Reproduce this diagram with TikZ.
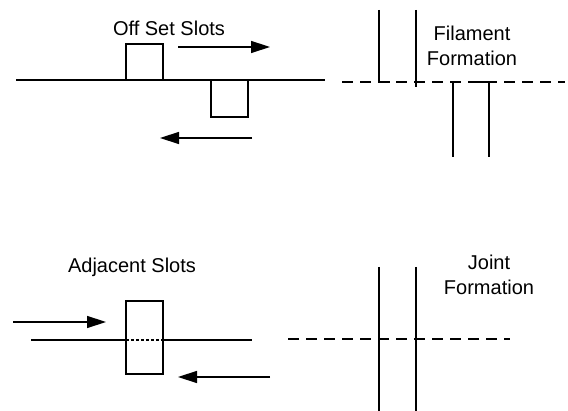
\documentclass[tikz,border=0pt]{standalone}
\usepackage{fontspec}
\setmainfont{Liberation Sans}
\usetikzlibrary{arrows.meta}
\begin{document}
\begin{tikzpicture}[x=1pt,y=-1pt,
  ln/.style={line width=1.4pt},
  dsh/.style={line width=1.4pt,dash pattern=on 11pt off 7pt},
  arr/.style={line width=1.4pt,-{Triangle[length=19pt,width=12pt]}},
  lbl/.style={font=\fontsize{20}{25}\selectfont,align=center,inner sep=0pt}]
\useasboundingbox (0,0) rectangle (568,411);
% top-left: offset slots
\coordinate (l1a) at (16,80); \coordinate (l1b) at (325,80);
\draw[ln] (l1a) -- (l1b);
\draw[ln] (126,80) -- (126,44) -- (163,44) -- (163,80);
\draw[ln] (211,80) -- (211,117) -- (248,117) -- (248,80);
\coordinate (a1s) at (178,47); \coordinate (a1e) at (270,47);
\draw[arr] (a1s) -- (a1e);
\coordinate (a2s) at (252,138); \coordinate (a2e) at (160,138);
\draw[arr] (a2s) -- (a2e);
\node[lbl] (t1) at (169,28) {Off Set Slots};
% top-right: filament formation
\coordinate (d1a) at (342,82); \coordinate (d1b) at (565,82);
\draw[dsh] (d1a) -- (d1b);
\draw[ln] (379,10) -- (379,82) -- (390,82);
\draw[ln] (416,10) -- (416,87);
\draw[ln] (453,82) -- (453,157);
\draw[ln] (478,82) -- (489,82) -- (489,157);
\node[lbl] (t2) at (472,46) {Filament\\Formation};
% bottom-left: adjacent slots
\coordinate (l2a) at (31,340); \coordinate (l2b) at (126,340);
\coordinate (l2c) at (163,340); \coordinate (l2d) at (252,340);
\draw[ln] (l2a) -- (l2b);
\draw[ln] (l2c) -- (l2d);
\draw[line width=1.4pt,dash pattern=on 3pt off 2pt] (l2b) -- (l2c);
\draw[ln] (126,301) rectangle (163,374);
\coordinate (a3s) at (13,322); \coordinate (a3e) at (106,322);
\draw[arr] (a3s) -- (a3e);
\coordinate (a4s) at (270,377); \coordinate (a4e) at (178,377);
\draw[arr] (a4s) -- (a4e);
\node[lbl] (t3) at (132,267) {Adjacent Slots};
% bottom-right: joint formation
\coordinate (d2a) at (288,339); \coordinate (d2b) at (510,339);
\draw[dsh] (d2a) -- (d2b);
\draw[ln] (379,267) -- (379,411);
\draw[ln] (416,267) -- (416,411);
\node[lbl] (t4) at (489,275) {Joint\\Formation};
\end{tikzpicture}
\end{document}
